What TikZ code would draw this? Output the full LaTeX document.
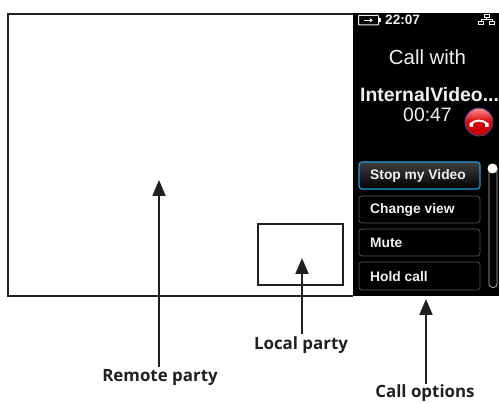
\documentclass[tikz,border=0pt]{standalone}
\usepackage{fontspec}
\setmainfont{Liberation Sans}
\newfontfamily\labelfont{Open Sans}
\usetikzlibrary{arrows.meta,shadings}
\definecolor{ink}{HTML}{231F20}
\definecolor{uitext}{HTML}{F0F0F0}
\definecolor{edgegray}{HTML}{555555}
\definecolor{focusblue}{HTML}{1E9FE0}
\tikzset{
  x=1pt,y=-1pt,
  frame/.style={draw=ink,line width=2pt},
  callout/.style={font=\labelfont\bfseries\fontsize{16.9}{18}\selectfont,text=ink,inner sep=0pt},
  pointer/.style={draw=ink,line width=2pt,-{Triangle[length=16pt,width=13pt]}},
  optbtn/.style={draw=edgegray,line width=.7pt,rounded corners=3pt,minimum width=121pt,minimum height=27pt,inner sep=0pt,fill=black},
  opttext/.style={text=uitext,font=\bfseries\fontsize{13.8}{15}\selectfont,inner sep=0pt},
  uilabel/.style={text=uitext,inner sep=0pt},
}
\begin{document}
\begin{tikzpicture}
\useasboundingbox (0,0) rectangle (499,403);
\fill[white] (0,0) rectangle (499,403);
% remote frame
\draw[frame] (353,14) -- (8,14) -- (8,296) -- (353,296);
\node[frame,draw,minimum width=85pt,minimum height=61pt,inner sep=0pt] (localbox) at (300.5,254.5) {};
% panel
\fill[black] (353,13) rectangle (499,296);
% status
\draw[uitext,line width=1pt,rounded corners=.6pt] (358.5,15.5) rectangle (378.5,25);
\fill[uitext] (378.5,18) rectangle (380.5,22.5);
\draw[uitext,line width=.9pt,-{Stealth[length=3.5pt,width=4.5pt]}] (364,20.3) -- (373,20.3);
\node[uilabel,font=\bfseries\fontsize{13.6}{15}\selectfont,anchor=west] (clock) at (385,20) {22:07};
\draw[uitext,line width=.6pt] (484,14) rectangle (489,17.5);
\draw[uitext,line width=.6pt] (478.5,21) rectangle (483.5,24.5);
\draw[uitext,line width=.6pt] (489.5,21) rectangle (494.5,24.5);
\draw[uitext,line width=.6pt] (481,21) -- (481,19.2) -- (492,19.2) -- (492,21) (486.5,17.5) -- (486.5,19.2);
\node[uilabel,font=\fontsize{20.4}{22}\selectfont] (callwith) at (427.5,57) {Call with};
\node[uilabel,font=\bfseries\fontsize{19.4}{21}\selectfont,anchor=west] (peer) at (360,95) {InternalVideo...};
\node[uilabel,font=\fontsize{19.4}{21}\selectfont] (timer) at (427.5,115) {00:47};
% hang-up button
\shade[top color=red!45!white,bottom color=red!80!black,middle color=red!85!black] (479,122) circle (13.5);
\draw[blue!35!gray,line width=.8pt] (479,122) circle (14);
\draw[white,line width=2pt,line cap=round] (470.5,124) .. controls (475,119.5) and (483,119.5) .. (487.5,124);
\fill[white] (469.5,123) rectangle (473,127) (485,123) rectangle (488.5,127);
% option buttons
\node[optbtn,draw=focusblue,line width=1.2pt,top color=black!75!white,bottom color=black] (stopbtn) at (419.5,175.5) {};
\node[optbtn] (viewbtn) at (419.5,209.5) {};
\node[optbtn] (mutebtn) at (419.5,242.5) {};
\node[optbtn,minimum height=28pt] (holdbtn) at (419.5,276) {};
\node[opttext,anchor=west] at (370,175.5) {Stop my Video};
\node[opttext,anchor=west] at (370,209.5) {Change view};
\node[opttext,anchor=west] at (370,243) {Mute};
\node[opttext,anchor=west] at (370,277) {Hold call};
% scrollbar
\draw[uitext!75!black,line width=.8pt,rounded corners=3.5pt] (489,165) rectangle (497,287.5);
\fill[white] (492.5,168.5) circle (5);
% callouts
\node[callout] (remotelbl) at (160,377) {Remote party};
\node[callout] (locallbl) at (301,345) {Local party};
\node[callout] (optionslbl) at (425,393.5) {Call options};
\coordinate (remotetip) at (159,180);
\coordinate (localtip) at (302,258);
\coordinate (optionstip) at (426,299);
\draw[pointer] (remotelbl.north -| remotetip) ++(0,-2) -- (remotetip);
\draw[pointer] (locallbl.north -| localtip) ++(0,-2) -- (localtip);
\draw[pointer] (optionslbl.north -| optionstip) ++(0,-1) -- (optionstip);
\end{tikzpicture}
\end{document}
